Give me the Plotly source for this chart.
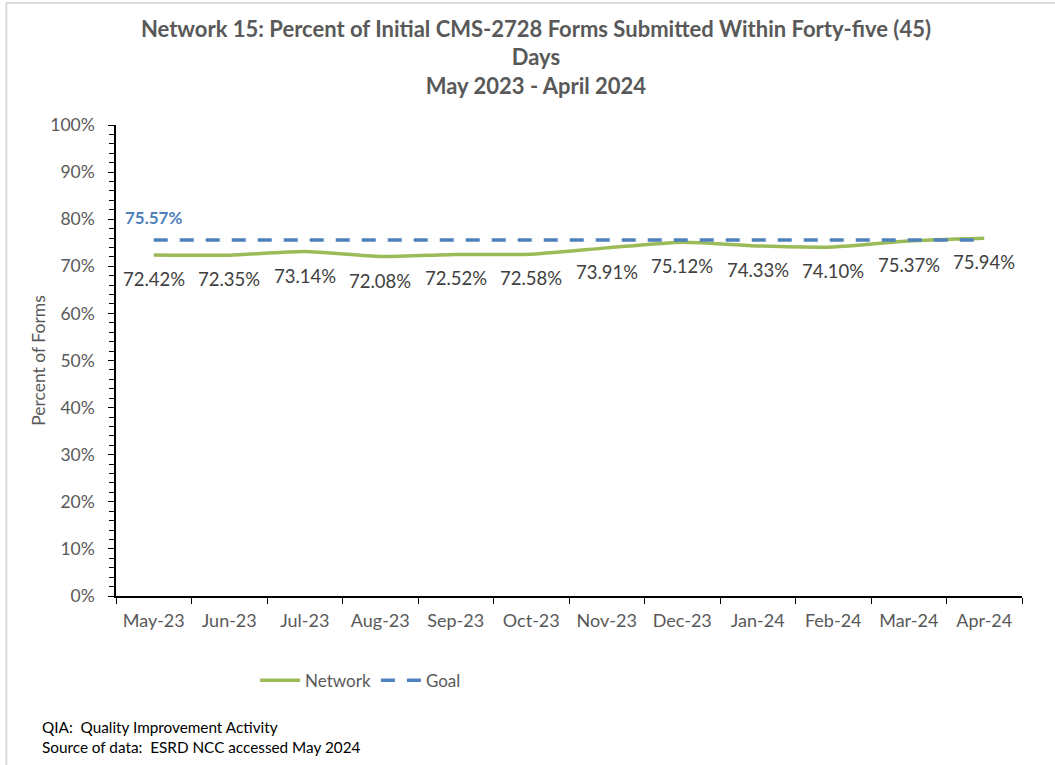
import plotly.graph_objects as go

months = ["May-23", "Jun-23", "Jul-23", "Aug-23", "Sep-23", "Oct-23",
          "Nov-23", "Dec-23", "Jan-24", "Feb-24", "Mar-24", "Apr-24"]
network = [72.42, 72.35, 73.14, 72.08, 72.52, 72.58,
           73.91, 75.12, 74.33, 74.10, 75.37, 75.94]
goal_value = 75.57
goal = [goal_value] * len(months)
y_ticks = list(range(0, 101, 10))
y_tick_labels = [f"{v}%" for v in y_ticks]

GREEN = "#9BBB59"
BLUE = "#4F81BD"
FONT = "Lato, 'Open Sans', sans-serif"

fig = go.Figure()
fig.add_trace(go.Scatter(
    x=months, y=network, name="Network", mode="lines",
    line=dict(color=GREEN, width=3.5, shape="spline", smoothing=0.6),
))
fig.add_trace(go.Scatter(
    x=months, y=goal, name="Goal", mode="lines",
    line=dict(color=BLUE, width=3.5, dash="14px,12px"),
))

# value labels under each network point
for m, v in zip(months, network):
    fig.add_annotation(x=m, y=v, text=f"{v:.2f}%", showarrow=False,
                       yshift=-24, font=dict(family=FONT, size=18.5, color="#404040"))
# goal label above the first point
fig.add_annotation(x=months[0], y=goal_value, text=f"<b>{goal_value:.2f}%</b>",
                   showarrow=False, yshift=23,
                   font=dict(family=FONT, size=17, color=BLUE))

# footnotes
fig.add_annotation(xref="paper", yref="paper", x=-0.084, y=-0.278, xanchor="left",
                   yanchor="middle", showarrow=False,
                   text="QIA:  Quality Improvement Activity",
                   font=dict(family=FONT, size=15.3, color="#000000"))
fig.add_annotation(xref="paper", yref="paper", x=-0.084, y=-0.321, xanchor="left",
                   yanchor="middle", showarrow=False,
                   text="Source of data:  ESRD NCC accessed May 2024",
                   font=dict(family=FONT, size=15.3, color="#000000"))

# chart frame (left and top edges)
fig.add_shape(type="line", xref="paper", yref="paper", x0=-0.121, x1=-0.121,
              y0=-0.4, y1=1.259, line=dict(color="#D9D9D9", width=2))
fig.add_shape(type="line", xref="paper", yref="paper", x0=-0.121, x1=1.05,
              y0=1.259, y1=1.259, line=dict(color="#D9D9D9", width=2))

fig.update_layout(
    width=1055, height=765,
    margin=dict(l=116, r=33, t=125, b=169),
    paper_bgcolor="white", plot_bgcolor="white",
    font=dict(family=FONT, color="#595959"),
    title=dict(
        text="<b>Network 15: Percent of Initial CMS-2728 Forms Submitted Within Forty-five (45)"
             "<br>Days<br>May 2023 - April 2024</b>",
        x=0.508, xref="container", xanchor="center", y=0.952, yanchor="top",
        font=dict(family=FONT, size=22, color="#595959"),
    ),
    showlegend=True,
    legend=dict(orientation="h", x=0.27, y=-0.18, xanchor="center", yanchor="middle",
                font=dict(family=FONT, size=17, color="#595959"),
                itemwidth=40, tracegroupgap=0),
    xaxis=dict(
        type="category", tickson="boundaries", ticks="outside", ticklen=6,
        tickcolor="#000000", showline=True, linecolor="#000000", linewidth=1.5,
        showgrid=False, tickfont=dict(family=FONT, size=18, color="#595959"),
        ticklabelstandoff=8, range=[-0.5, 11.5],
    ),
    yaxis=dict(
        range=[0, 100], tickvals=y_ticks, ticktext=y_tick_labels,
        ticks="outside", ticklen=6, tickcolor="#000000",
        showline=True, linecolor="#000000", linewidth=1.5, showgrid=False,
        zeroline=False, ticklabelstandoff=10,
        minor=dict(dtick=2, ticks="outside", ticklen=5, tickcolor="#000000"),
        tickfont=dict(family=FONT, size=17.5, color="#595959"),
        title=dict(text="Percent of Forms", standoff=0,
                   font=dict(family=FONT, size=17.5, color="#595959")),
    ),
)

fig.write_html("out.html")
